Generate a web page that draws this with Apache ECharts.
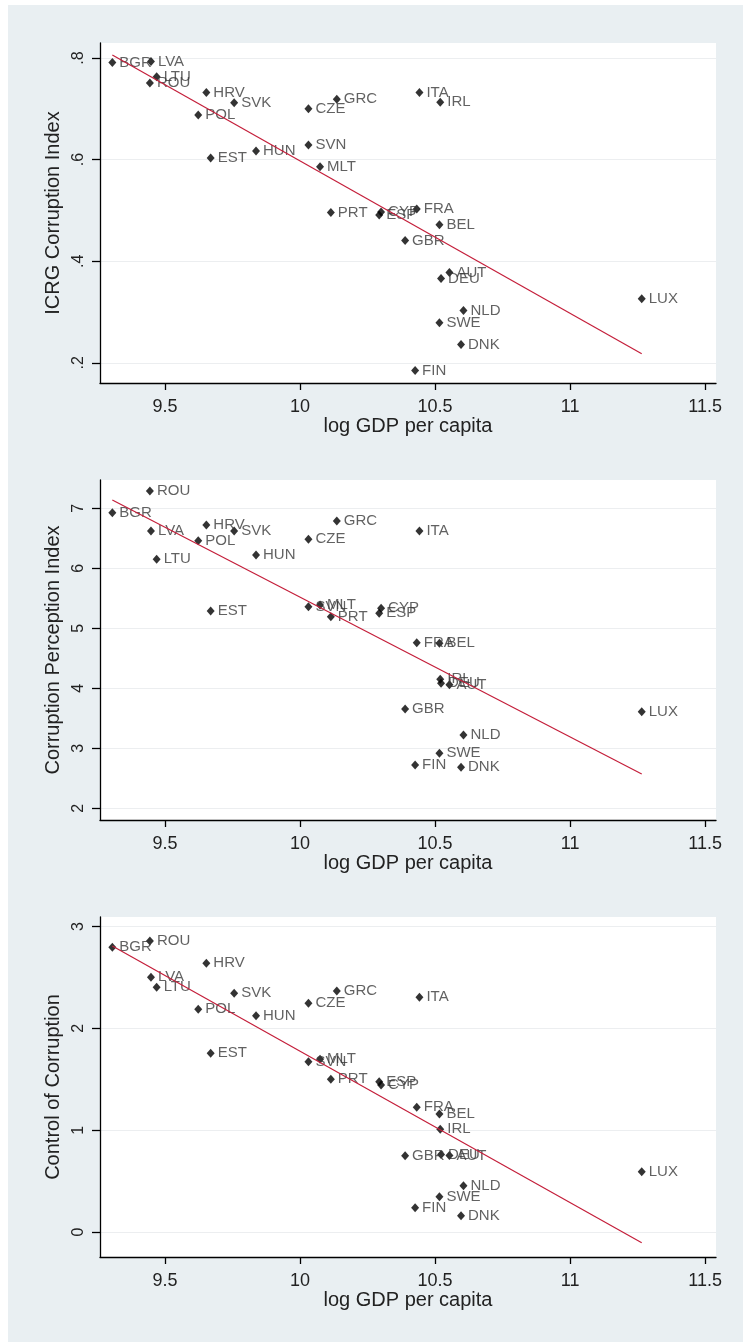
<!DOCTYPE html>
<html><head><meta charset="utf-8">
<script src="https://cdn.jsdelivr.net/npm/echarts@6/dist/echarts.min.js"></script>
<style>
html,body{margin:0;padding:0;background:#fff}
#wrap{position:relative;width:743px;height:1342px;overflow:hidden}
#bg{position:absolute;left:8px;top:5px;width:735px;height:1337px;background:#E9EFF2}
#c{position:absolute;left:0;top:0;width:743px;height:1342px}
</style>
</head><body><div id="wrap"><div id="bg"></div><div id="c"></div></div>
<script>
// ---- data ----
const countries = ['BGR','LVA','LTU','ROU','HRV','SVK','POL','EST','HUN','CZE','GRC','SVN','MLT','PRT','ESP','CYP','FRA','BEL','GBR','ITA','IRL','AUT','DEU','LUX','NLD','SWE','DNK','FIN'];
const logGDP   = [9.305,9.448,9.469,9.444,9.653,9.756,9.623,9.669,9.837,10.031,10.136,10.031,10.074,10.114,10.293,10.300,10.432,10.516,10.389,10.442,10.519,10.553,10.522,11.265,10.605,10.516,10.596,10.426];
const icrg     = [0.791,0.793,0.763,0.751,0.732,0.712,0.688,0.603,0.617,0.700,0.719,0.629,0.586,0.496,0.491,0.497,0.503,0.472,0.441,0.732,0.713,0.378,0.366,0.326,0.303,0.279,0.236,0.185];
const cpi      = [6.927,6.622,6.150,7.288,6.722,6.622,6.460,5.288,6.222,6.483,6.788,5.360,5.388,5.193,5.250,5.333,4.760,4.750,3.655,6.622,4.150,4.060,4.083,3.610,3.220,2.917,2.683,2.722];
const coc      = [2.797,2.502,2.404,2.859,2.639,2.345,2.188,1.755,2.125,2.247,2.367,1.673,1.696,1.500,1.476,1.444,1.225,1.159,0.750,2.305,1.009,0.752,0.760,0.592,0.455,0.347,0.160,0.239];
// fitted lines (endpoints)
const fitX    = [9.305, 11.265];
const fitICRG = [0.806, 0.218];
const fitCPI  = [7.14, 2.572];
const fitCOC  = [2.81, -0.105];
// ticks
const xTicks  = [9.5, 10, 10.5, 11, 11.5];
const yTicks1 = [0.2, 0.4, 0.6, 0.8];
const yTicks2 = [2, 3, 4, 5, 6, 7];
const yTicks3 = [0, 1, 2, 3];
const xTitle  = 'log GDP per capita';
const yTitles = ['ICRG Corruption Index', 'Corruption Perception Index', 'Control of Corruption'];

// ---- layout ----
const FONT = 'Liberation Sans, Arial, sans-serif';
const xRange = [9.2593, 11.540];
const yRanges = [[0.1604, 0.8295], [1.805, 7.472], [-0.2456, 3.094]];
const gridTops = [43, 480, 917];
const yTickSets = [yTicks1, yTicks2, yTicks3];
const yVals = [icrg, cpi, coc];
const fits = [fitICRG, fitCPI, fitCOC];
const yFmt = [v => (Math.round(v*10)/10).toString().replace(/^0\./, '.'), v => String(v), v => String(v)];

const grids = [], xAxes = [], yAxes = [], series = [];
for (let i = 0; i < 3; i++) {
  grids.push({left: 100, top: gridTops[i], width: 616, height: 340, show: true, backgroundColor: '#fff', borderWidth: 0});
  xAxes.push({
    gridIndex: i, type: 'value', min: xRange[0], max: xRange[1],
    name: xTitle, nameLocation: 'middle', nameGap: 33,
    nameTextStyle: {fontFamily: FONT, fontSize: 20, color: '#222'},
    axisLine: {show: true, onZero: false, lineStyle: {color: '#000', width: 1.3}},
    axisTick: {show: true, length: 7, customValues: xTicks, lineStyle: {color: '#000', width: 1.3}},
    axisLabel: {customValues: xTicks, fontFamily: FONT, fontSize: 18, color: '#222', margin: 15, formatter: v => String(v)},
    splitLine: {show: false}
  });
  yAxes.push({
    gridIndex: i, type: 'value', min: yRanges[i][0], max: yRanges[i][1],
    name: yTitles[i], nameLocation: 'middle', nameGap: 29, nameRotate: 90,
    nameTextStyle: {fontFamily: FONT, fontSize: 20, color: '#222'},
    axisLine: {show: true, onZero: false, lineStyle: {color: '#000', width: 1.3}},
    axisTick: {show: true, length: 8, customValues: yTickSets[i], lineStyle: {color: '#000', width: 1.3}},
    axisLabel: {customValues: yTickSets[i], rotate: 90, fontFamily: FONT, fontSize: 16, color: '#222', margin: 13, formatter: yFmt[i]},
    splitLine: {show: true, lineStyle: {color: '#ECEEF0', width: 1}}
  });
  const pts = countries.map((c, k) => [logGDP[k], yVals[i][k], c]);
  series.push({
    type: 'scatter', xAxisIndex: i, yAxisIndex: i, data: pts,
    symbol: 'diamond', symbolSize: [8, 9], itemStyle: {color: '#000'},
    label: {show: true, position: 'right', distance: 3, formatter: p => p.data[2],
            fontFamily: FONT, fontSize: 15, color: '#3a3a3a'},
    z: 2
  });
  series.push({
    type: 'line', xAxisIndex: i, yAxisIndex: i,
    data: fitX.map((x, k) => [x, fits[i][k]]),
    showSymbol: false, symbol: 'none',
    lineStyle: {color: '#C41E3A', width: 1.2}, z: 3
  });
}

const chart = echarts.init(document.getElementById('c'), null, {renderer: 'canvas'});
chart.setOption({
  animation: false,
  backgroundColor: 'transparent',
  grid: grids, xAxis: xAxes, yAxis: yAxes, series: series
});
</script>
</body></html>
